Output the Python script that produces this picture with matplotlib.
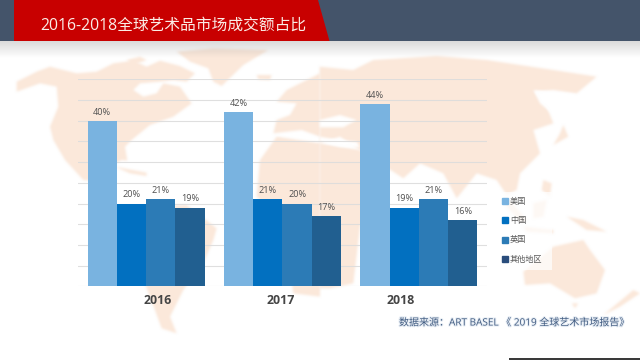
import numpy as np
import matplotlib
matplotlib.use("Agg")
import matplotlib.pyplot as plt
from matplotlib.colors import to_rgb
from matplotlib.patches import Polygon, Rectangle
import matplotlib.patheffects as pe

plt.rcParams['font.family'] = ['Open Sans', 'Noto Sans CJK SC', 'DejaVu Sans']

years = ['2016', '2017', '2018']
series_names = ['美国', '中国', '英国', '其他地区']
usa = [40, 42, 44]
china = [20, 21, 19]
uk = [21, 20, 21]
others = [19, 17, 16]
series_values = [usa, china, uk, others]
series_colors = ['#79B3E0', '#0270C0', '#2C7BB6', '#215F90']
legend_colors = ['#79B3E0', '#0270C0', '#2C7BB6', '#2A4D7C']
title = '2016-2018全球艺术品市场成交额占比'
source = '数据来源\uff1aART BASEL 《 2019 全球艺术市场报告》'

W, H = 640, 360
fig = plt.figure(figsize=(W / 100, H / 100), dpi=100, facecolor='white')

# ---------- decorative background, in pixel space ----------
bg = fig.add_axes([0, 0, 1, 1], zorder=0)
bg.set_xlim(0, W)
bg.set_ylim(H, 0)
bg.axis('off')

MAP = '#FBE8DA'

def soft(color, pad=3):
    rgb = to_rgb(color)
    kernel = np.array([1, 2, 3, 2, 1], float)
    kernel /= kernel.sum()
    def f(img, dpi):
        a = np.pad(img[:, :, 3], pad)
        a = np.apply_along_axis(lambda r: np.convolve(r, kernel, mode='same'), 0, a)
        a = np.apply_along_axis(lambda r: np.convolve(r, kernel, mode='same'), 1, a)
        out = np.zeros(a.shape + (4,))
        out[:, :, 0], out[:, :, 1], out[:, :, 2] = rgb
        out[:, :, 3] = a
        return out, -pad, -pad
    return f

def zl(pts):  # left crop of reference -> pixels
    return [(x / 3, 40 + y / 3) for x, y in pts]
def zr(pts):  # right crop of reference -> pixels
    return [(320 + x / 3, 40 + y / 3) for x, y in pts]

land = [
    zl([(50,125),(110,95),(150,80),(230,100),(290,95),(340,70),(400,62),(440,80),(480,62),(540,78),(585,100),
        (560,125),(520,120),(480,125),(420,130),(400,150),(430,170),(470,160),(490,130),(540,140),(575,190),(520,230),
        (450,255),(395,300),(375,320),(382,362),(365,360),(335,375),(300,365),(280,400),(300,425),(250,420),(195,360),
        (160,300),(150,260),(175,200),(170,140),(120,130),(50,155)]),
    zl([(530,35),(640,25),(805,30),(730,75),(665,138),(640,125),(625,85),(570,65)]),
    zl([(380,60),(420,50),(440,60),(400,75)]),
    zl([(440,500),(560,495),(650,565),(640,600),(610,670),(550,750),(510,830),(530,880),(485,865),(450,770),(400,640)]),
    zl([(770,105),(815,105),(810,120),(775,118)]),
    zl([(345,380),(440,398),(440,408),(390,400)]),
    # Europe and Africa
    zl([(780,360),(830,290),(960,310),(960,770),(880,760),(860,620),(840,540),(770,470)]),
    zl([(820,280),(830,240),(870,225),(890,190),(830,185),(860,150),(910,125),(960,100),(960,290),(905,270),(860,275)]),
    zr([(-1,80),(100,90),(160,60),(350,48),(500,60),(700,90),(830,110),(770,160),(700,150),(645,155),(680,200),
        (700,250),(640,270),(660,340),(600,400),(590,450),(560,465),(530,420),(470,400),(410,475),(370,400),(300,370),
        (250,415),(120,330),(60,290),(0,310)]),
    zr([(-1,310),(120,330),(190,400),(120,560),(100,730),(30,745),(-1,745)]),
    zr([(730,255),(745,290),(700,315),(720,280)]),
    zr([(670,420),(695,430),(690,470),(665,450)]),
    zr([(640,490),(680,480),(670,530),(640,535)]),
    zr([(560,470),(620,540),(605,550),(560,500)]),
    zr([(740,530),(790,540),(860,575),(800,570)]),
    zr([(610,560),(700,570),(700,580),(620,575)]),
    zr([(610,695),(700,620),(790,600),(810,630),(855,690),(830,760),(765,775),(690,730),(615,735)]),
    zr([(940,750),(960,760),(900,800),(850,825)]),
    zr([(755,790),(775,790),(765,805)]),
]
for pts in land:
    p = Polygon(pts, closed=True, fc=MAP, ec='none', zorder=1)
    p.set_agg_filter(soft(MAP))
    bg.add_patch(p)
# water cut-outs
for pts in [zr([(-1,290),(60,300),(110,305),(120,322),(60,320),(-1,305)]),
            zr([(-1,240),(60,225),(110,240),(70,262),(-1,262)]),
            zr([(640,150),(770,165),(720,225),(690,215),(660,190)])]:
    p = Polygon(pts, closed=True, fc='white', ec='none', zorder=1.1)
    p.set_agg_filter(soft('white'))
    bg.add_patch(p)

# pale legend panel
bg.add_patch(Rectangle((492, 192), 60, 78, fc='white', alpha=0.72, ec='none', zorder=1.5))

# header shadow
shadow = np.linspace(0.32, 0, 60).reshape(-1, 1, 1)
rgba = np.concatenate([np.full((60, 1, 3), 0.55), shadow], axis=2)
bg.imshow(rgba, extent=(0, W, 58, 41), aspect='auto', zorder=2, interpolation='bilinear')
bg.set_xlim(0, W)
bg.set_ylim(H, 0)

bg.add_patch(Rectangle((0, 0), W, 41, fc='#44546A', ec='none', zorder=3))
bg.add_patch(Polygon([(14, 0), (318, 0), (329.5, 41), (14, 41)], closed=True, fc='#C80000', ec='none', zorder=4))
bg.text(40, 26, title, color='#FBEDE6', fontsize=11.3, ha='left', va='center', zorder=5)

# strip at the lower right edge
bg.add_patch(Rectangle((509, 358), 131, 2, fc='#3A3A3A', ec='none', zorder=3))

# ---------- chart ----------
ax = fig.add_axes([78 / W, 1 - 286.3 / H, 409 / W, (286.3 - 79.3) / H], zorder=2)
ax.patch.set_alpha(0)
x = np.arange(len(years))
n = len(series_names)
width = 0.215
handles = []
for i, (name, vals, col) in enumerate(zip(series_names, series_values, series_colors)):
    bars = ax.bar(x + (i - (n - 1) / 2) * width, vals, width, color=col, label=name, zorder=3)
    ax.bar_label(bars, labels=[f'{v}%' for v in vals], padding=3.0, fontsize=6.6, color='#505050')
    handles.append(bars)
ax.set_xlim(-0.5, 2.5)
ax.set_ylim(0, 50)
ax.set_yticks(np.arange(0, 51, 5))
ax.set_xticks([])
ax.tick_params(left=False, labelleft=False)
ax.grid(axis='y', color='#DCDCDC', lw=0.8, alpha=0.9, zorder=1)
ax.set_axisbelow(True)
for s in ax.spines.values():
    s.set_visible(False)

leg = ax.legend(handles=handles, loc='upper left', bbox_to_anchor=(501.5 / W, 1 - 197.5 / H),
                bbox_transform=fig.transFigure, frameon=False, fontsize=5.9, handlelength=0.75,
                handleheight=0.75, handletextpad=0.3, labelspacing=1.38, borderpad=0, borderaxespad=0)
for h, c in zip(leg.legend_handles, legend_colors):
    h.set_color(c)
for t in leg.get_texts():
    t.set_color('#595959')

# year labels sit at their own spots in the reference
for label, px in zip(years, [157.7, 280.7, 401.0]):
    bg.text(px, 301, label, fontsize=8.9, fontweight='bold', color='#454545', ha='center', va='center', zorder=6)

txt = bg.text(399, 323, source, fontsize=7.2, color='#3F5A80', ha='left', va='center', zorder=6)
txt.set_path_effects([pe.withStroke(linewidth=1.5, foreground='#E8EEF5')])

fig.savefig('out.png', dpi=100)
